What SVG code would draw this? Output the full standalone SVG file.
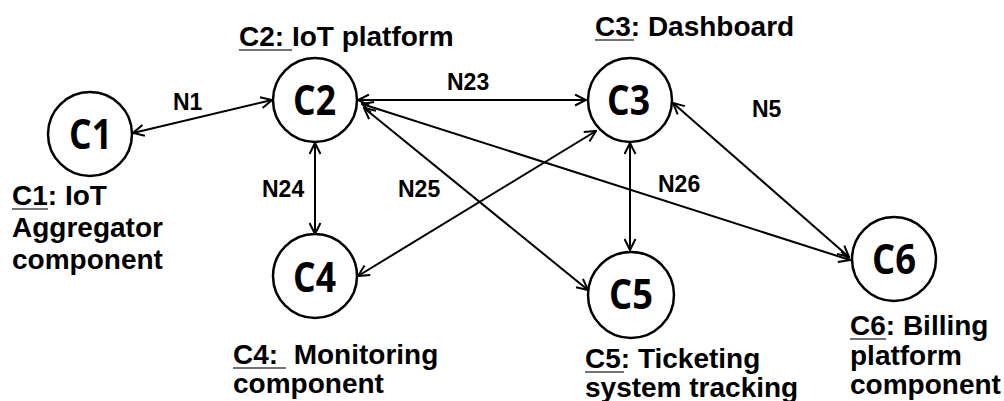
<svg xmlns="http://www.w3.org/2000/svg" width="1004" height="401" viewBox="0 0 1004 401">
<style>
.node circle{fill:#fff;stroke:#000;stroke-width:2.5}
.cid{font-family:"Open Sans","Liberation Sans",sans-serif;font-weight:700;font-size:42px;fill:#000}
.lbl{font-family:"Liberation Sans",Arial,sans-serif;font-weight:700;font-size:28px;fill:#000;white-space:pre}
.ul{stroke:#444;stroke-width:1.5}
.edge line{stroke:#000;stroke-width:2;marker-start:url(#ah);marker-end:url(#ah)}
.elbl{font-family:"Liberation Sans",Arial,sans-serif;font-weight:700;font-size:23px;fill:#000}
</style>
<defs>
<marker id="ah" viewBox="0 0 13 13" refX="12" refY="6.5" markerWidth="13" markerHeight="13" markerUnits="userSpaceOnUse" orient="auto-start-reverse">
<path d="M1,1 L12,6.5 L1,12" fill="none" stroke="#000" stroke-width="2"/>
</marker>
</defs>
<rect width="1004" height="401" fill="#fff"/>
<g id="connectors" class="edge">
<line x1="133" y1="133" x2="272" y2="100"/>
<line x1="358" y1="100" x2="586" y2="100"/>
<line x1="315" y1="143" x2="315" y2="234"/>
<line x1="364" y1="108" x2="588" y2="290"/>
<line x1="362" y1="104" x2="850" y2="260"/>
<line x1="358" y1="276" x2="596" y2="131"/>
<line x1="630" y1="143" x2="630" y2="250"/>
<line x1="673" y1="103" x2="849" y2="257"/>
</g>
<g id="edge-labels">
<text class="elbl" x="173" y="110">N1</text>
<text class="elbl" x="447" y="90">N23</text>
<text class="elbl" x="262" y="197">N24</text>
<text class="elbl" x="398" y="197">N25</text>
<text class="elbl" x="752" y="117">N5</text>
<text class="elbl" x="658" y="192">N26</text>
</g>
<g id="C1" class="node">
<circle cx="90" cy="134" r="42"/>
<text class="cid" x="69" y="149" textLength="43" lengthAdjust="spacingAndGlyphs">C1</text>
<text class="lbl" x="12" y="205">C1: IoT</text>
<text class="lbl" x="12" y="237">Aggregator</text>
<text class="lbl" x="12" y="269">component</text>
<line class="ul" x1="12" y1="209" x2="48" y2="209"/>
</g>
<g id="C2" class="node">
<circle cx="315" cy="100" r="42"/>
<text class="cid" x="293" y="115" textLength="43" lengthAdjust="spacingAndGlyphs">C2</text>
<text class="lbl" x="239" y="46">C2: IoT platform</text>
<line class="ul" x1="239" y1="50" x2="292" y2="50"/>
</g>
<g id="C3" class="node">
<circle cx="630" cy="100" r="42"/>
<text class="cid" x="607" y="115" textLength="43" lengthAdjust="spacingAndGlyphs">C3</text>
<text class="lbl" x="595" y="36">C3: Dashboard</text>
<line class="ul" x1="595" y1="40" x2="634" y2="40"/>
</g>
<g id="C4" class="node">
<circle cx="315" cy="276" r="42"/>
<text class="cid" x="293" y="292" textLength="43" lengthAdjust="spacingAndGlyphs">C4</text>
<text class="lbl" x="233" y="364" xml:space="preserve">C4:  Monitoring</text>
<text class="lbl" x="233" y="393">component</text>
<line class="ul" x1="233" y1="368" x2="286" y2="368"/>
</g>
<g id="C5" class="node">
<circle cx="631" cy="295" r="43"/>
<text class="cid" x="609" y="309" textLength="44" lengthAdjust="spacingAndGlyphs">C5</text>
<text class="lbl" x="585" y="368">C5: Ticketing</text>
<text class="lbl" x="585" y="397">system tracking</text>
<line class="ul" x1="585" y1="372" x2="624" y2="372"/>
</g>
<g id="C6" class="node">
<circle cx="894" cy="259" r="42"/>
<text class="cid" x="872" y="274" textLength="44" lengthAdjust="spacingAndGlyphs">C6</text>
<text class="lbl" x="850" y="335">C6: Billing</text>
<text class="lbl" x="850" y="365">platform</text>
<text class="lbl" x="850" y="394">component</text>
<line class="ul" x1="850" y1="339" x2="886" y2="339"/>
</g>
</svg>
